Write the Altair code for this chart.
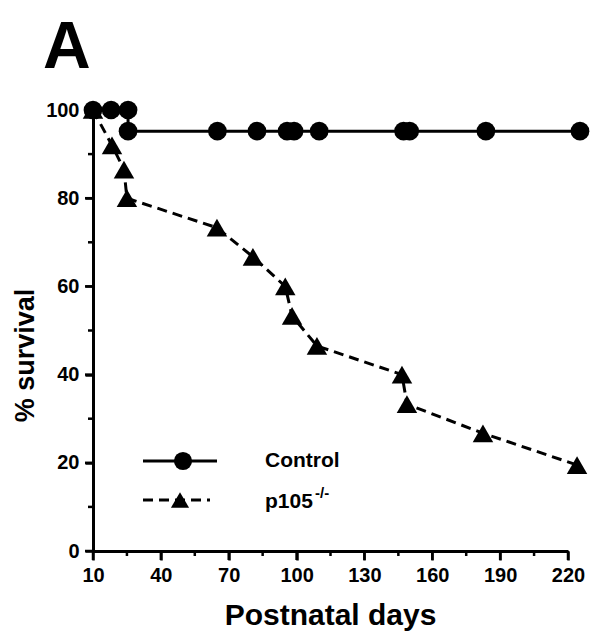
import altair as alt
import pandas as pd

# ---- data ----
ctrl_days = [10, 18, 25.5, 25.5, 65, 82.5, 95.8, 98.9, 110, 147.3, 150, 183.7, 225.3]
ctrl_surv = [100, 100, 100, 95.2, 95.2, 95.2, 95.2, 95.2, 95.2, 95.2, 95.2, 95.2, 95.2]
p105_days = [10, 18.4, 23.7, 25, 64.8, 80.7, 95, 98, 109, 146.6, 148.8, 182.4, 224]
p105_surv = [100, 92, 86.5, 80, 73.3, 66.7, 60, 53.3, 46.5, 40, 33.3, 26.7, 19.5]
x_major = [10, 40, 70, 100, 130, 160, 190, 220]
x_minor = [25, 55, 85, 115, 145, 175, 205]
y_major = [0, 20, 40, 60, 80, 100]
y_minor = [10, 30, 50, 70, 90]
series_names = ["Control", "p105"]
superscript = ["-/-"]
panel_label = ["A"]

FONT = "Liberation Sans"

ctrl = pd.DataFrame({"day": ctrl_days, "surv": ctrl_surv, "i": range(len(ctrl_days))})
p105 = pd.DataFrame({"day": p105_days, "surv": p105_surv, "i": range(len(p105_days))})

x_axis = alt.Axis(
    values=x_major,
    ticks=True,
    tickSize=9,
    tickColor="black",
    tickWidth=2.5,
    labelPadding=5,
    labelFontSize=20,
    labelFlush=False,
    labelOverlap=False,
    title="Postnatal days",
    titleFontSize=30,
    titleX=237,
    titleY=73,
    titleAlign="center",
    titleBaseline="alphabetic",
    grid=False,
)
y_axis = alt.Axis(
    values=y_major,
    ticks=True,
    tickSize=8,
    tickColor="black",
    tickWidth=2.5,
    labelPadding=6,
    labelFontSize=20,
    labelFlush=False,
    labelOverlap=False,
    title="% survival",
    titleFontSize=27,
    titleAngle=270,
    titleX=-60,
    titleY=245,
    titleAlign="center",
    titleBaseline="alphabetic",
    grid=False,
)

xs = alt.Scale(domain=[10, 220], nice=False, zero=False)
ys = alt.Scale(domain=[0, 100], nice=False)
X = alt.X("day:Q", scale=xs, axis=x_axis)
Y = alt.Y("surv:Q", scale=ys, axis=y_axis)

p_line = alt.Chart(p105).mark_line(color="black", strokeWidth=3, strokeDash=[10, 6], clip=False).encode(
    x=X, y=Y, order="i:Q")
p_pts = alt.Chart(p105).mark_point(shape="triangle-up", filled=True, color="black", size=420, opacity=1, clip=False).encode(
    x=X, y=Y)
c_line = alt.Chart(ctrl).mark_line(color="black", strokeWidth=3, clip=False).encode(
    x=X, y=Y, order="i:Q")
c_pts = alt.Chart(ctrl).mark_circle(color="black", size=350, opacity=1, clip=False).encode(
    x=X, y=Y)

# tick marks, placed through the scales
x_major_ticks = alt.Chart(pd.DataFrame({"day": x_major})).mark_rule(color="black", strokeWidth=2.5).encode(
    x=X, y=alt.value(441), y2=alt.value(450))
x_minor_ticks = alt.Chart(pd.DataFrame({"day": x_minor})).mark_rule(color="black", strokeWidth=2.5).encode(
    x=X, y=alt.value(441), y2=alt.value(446))
y_major_ticks = alt.Chart(pd.DataFrame({"surv": y_major})).mark_rule(color="black", strokeWidth=2.5).encode(
    y=Y, x=alt.value(0), x2=alt.value(-8))
y_minor_ticks = alt.Chart(pd.DataFrame({"surv": y_minor})).mark_rule(color="black", strokeWidth=2.5).encode(
    y=Y, x=alt.value(0), x2=alt.value(-5))

# ---- legend (drawn manually, like the original figure) ----
leg1 = pd.DataFrame({"name": [series_names[0]]})
leg2 = pd.DataFrame({"name": [series_names[1]]})
l1_rule = alt.Chart(leg1).mark_rule(color="black", strokeWidth=3).encode(
    x=alt.value(50), x2=alt.value(124), y=alt.value(351))
l1_pt = alt.Chart(leg1).mark_circle(color="black", size=330, opacity=1).encode(
    x=alt.value(90), y=alt.value(351))
l1_txt = alt.Chart(leg1).mark_text(font=FONT, fontWeight="bold", fontSize=21, align="left", baseline="middle", color="black").encode(
    x=alt.value(172), y=alt.value(351), text="name:N")
l2_rule = alt.Chart(leg2).mark_rule(color="black", strokeWidth=3, strokeDash=[10, 6]).encode(
    x=alt.value(50), x2=alt.value(117), y=alt.value(390))
l2_pt = alt.Chart(leg2).mark_point(shape="triangle-up", filled=True, color="black", size=330, opacity=1).encode(
    x=alt.value(87), y=alt.value(390))
l2_txt = alt.Chart(leg2).mark_text(font=FONT, fontWeight="bold", fontSize=21, align="left", baseline="middle", color="black").encode(
    x=alt.value(172), y=alt.value(392), text="name:N")
l2_sup = alt.Chart(pd.DataFrame({"s": superscript})).mark_text(font=FONT, fontWeight="bold", fontSize=15, align="left", baseline="middle", color="black").encode(
    x=alt.value(222), y=alt.value(383), text="s:N")

a_txt = alt.Chart(pd.DataFrame({"t": panel_label})).mark_text(font=FONT, fontWeight="bold", fontSize=66, align="left", baseline="alphabetic", color="black").encode(
    x=alt.value(-50), y=alt.value(-42), text="t:N")

chart = alt.layer(
    p_line, p_pts, c_line, c_pts,
    x_major_ticks, x_minor_ticks, y_major_ticks, y_minor_ticks,
    l1_rule, l1_pt, l1_txt, l2_rule, l2_pt, l2_txt, l2_sup, a_txt,
).properties(
    width=475,
    height=441,
    padding={"left": 85, "top": 102, "right": 25, "bottom": 80},
    autosize=alt.AutoSizeParams(type="none"),
).configure_view(stroke=None).configure_axis(
    domainColor="black",
    domainWidth=3,
    tickColor="black",
    tickWidth=2.5,
    labelColor="black",
    labelFont=FONT,
    labelFontWeight="bold",
    titleColor="black",
    titleFont=FONT,
    titleFontWeight="bold",
)

chart.save("out.html", embed_options={"renderer": "svg", "actions": False})
